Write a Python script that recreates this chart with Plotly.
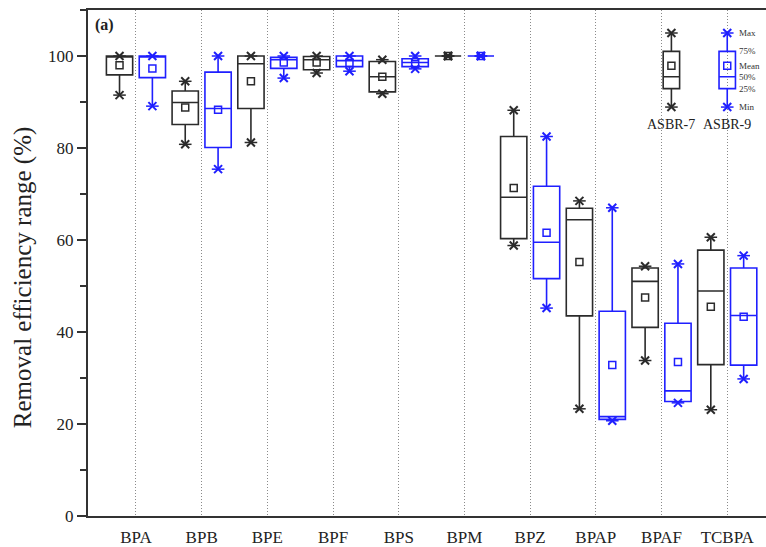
import plotly.graph_objects as go

# Compounds on the x axis
categories = ["BPA", "BPB", "BPE", "BPF", "BPS", "BPM", "BPZ", "BPAP", "BPAF", "TCBPA"]

# ASBR-7 removal efficiency statistics (%)
asbr7_min = [91.5, 80.8, 81.2, 96.3, 91.8, 100.0, 58.8, 23.3, 33.8, 23.1]
asbr7_q1 = [95.9, 85.1, 88.6, 97.0, 92.2, 100.0, 60.3, 43.5, 41.0, 32.9]
asbr7_median = [100.0, 89.9, 98.3, 99.2, 95.5, 100.0, 69.3, 64.4, 51.0, 48.9]
asbr7_q3 = [100.0, 92.4, 100.0, 99.9, 98.8, 100.0, 82.5, 66.9, 53.9, 57.8]
asbr7_max = [100.0, 94.5, 100.0, 100.0, 99.2, 100.0, 88.2, 68.5, 54.3, 60.6]
asbr7_mean = [98.0, 88.8, 94.5, 98.6, 95.5, 100.0, 71.3, 55.2, 47.5, 45.5]

# ASBR-9 removal efficiency statistics (%)
asbr9_min = [89.1, 75.4, 95.2, 96.7, 97.2, 100.0, 45.2, 20.7, 24.6, 29.8]
asbr9_q1 = [95.3, 80.1, 97.3, 97.7, 97.7, 100.0, 51.6, 21.0, 24.9, 32.8]
asbr9_median = [100.0, 88.6, 99.2, 99.0, 98.6, 100.0, 59.5, 21.6, 27.2, 43.6]
asbr9_q3 = [100.0, 96.5, 99.7, 100.0, 99.4, 100.0, 71.7, 44.5, 41.9, 53.9]
asbr9_max = [100.0, 100.0, 100.0, 100.0, 100.0, 100.0, 82.5, 67.0, 54.8, 56.6]
asbr9_mean = [97.3, 88.3, 98.6, 98.5, 98.2, 100.0, 61.6, 32.8, 33.5, 43.3]

# Box-key statistics drawn in the upper right corner
key_min, key_q1, key_median, key_q3, key_max, key_mean = 88.9, 92.9, 95.5, 101.0, 105.0, 97.9
key_labels = ["Max", "75%", "Mean", "50%", "25%", "Min"]
y_ticks = [0, 20, 40, 60, 80, 100]

FONT = "Liberation Serif"
BLACK = "#2b2b2b"
BLUE = "#1f1fff"

positions = list(range(1, len(categories) + 1))
fig = go.Figure()


def add_series(xs, q1, med, q3, lo, hi, mean, color, width):
    fig.add_trace(go.Box(
        x=xs, q1=q1, median=med, q3=q3, lowerfence=lo, upperfence=hi,
        width=width, whiskerwidth=0, boxpoints=False,
        fillcolor="rgba(0,0,0,0)", line=dict(color=color, width=1.6),
        showlegend=False, hoverinfo="skip"))
    # min / max crosses
    ends_x = list(xs) + list(xs)
    ends_y = list(lo) + list(hi)
    fig.add_trace(go.Scatter(
        x=ends_x, y=ends_y, mode="markers", showlegend=False, hoverinfo="skip",
        marker=dict(symbol="x-thin-open", size=8, color=color,
                    line=dict(color=color, width=2))))
    fig.add_trace(go.Scatter(
        x=ends_x, y=ends_y, mode="markers", showlegend=False, hoverinfo="skip",
        marker=dict(symbol="line-ew-open", size=9, color=color,
                    line=dict(color=color, width=1.5))))
    # mean squares
    fig.add_trace(go.Scatter(
        x=xs, y=mean, mode="markers", showlegend=False, hoverinfo="skip",
        marker=dict(symbol="square-open", size=7, color=color,
                    line=dict(color=color, width=1.5))))


x7 = [p - 0.25 for p in positions]
x9 = [p + 0.25 for p in positions]
add_series(x7, asbr7_q1, asbr7_median, asbr7_q3, asbr7_min, asbr7_max, asbr7_mean, BLACK, 0.4)
add_series(x9, asbr9_q1, asbr9_median, asbr9_q3, asbr9_min, asbr9_max, asbr9_mean, BLUE, 0.4)

# key boxes
key_x7, key_x9 = 9.15, 10.0
for kx, col in [(key_x7, BLACK), (key_x9, BLUE)]:
    add_series([kx], [key_q1], [key_median], [key_q3], [key_min], [key_max], [key_mean], col, 0.25)

annotations = []
key_label_y = [key_max, key_q3, key_mean, key_median, key_q1, key_min]
for txt, ky in zip(key_labels, key_label_y):
    annotations.append(dict(x=10.15, y=ky, xref="x", yref="y", text=txt, showarrow=False,
                            xanchor="left", yanchor="middle",
                            font=dict(family=FONT, size=9, color="#333")))
for kx, txt in [(key_x7, "ASBR-7"), (key_x9, "ASBR-9")]:
    annotations.append(dict(x=kx, y=85.1, xref="x", yref="y", text=txt, showarrow=False,
                            xanchor="center", yanchor="middle",
                            font=dict(family=FONT, size=14, color="#222")))
annotations.append(dict(x=0.007, y=0.97, xref="paper", yref="paper", text="<b>(a)</b>",
                        showarrow=False, xanchor="left", yanchor="middle",
                        font=dict(family=FONT, size=16, color="#222")))
annotations.append(dict(x=-(88 - 23) / 678, y=0.47, xref="paper", yref="paper",
                        text="Removal efficiency range (%)", textangle=-90, showarrow=False,
                        xanchor="center", yanchor="middle",
                        font=dict(family=FONT, size=25, color="#222")))

fig.update_layout(
    width=766, height=547,
    margin=dict(l=88, r=0, t=10, b=26),
    paper_bgcolor="white", plot_bgcolor="white",
    boxmode="overlay",
    showlegend=False,
    annotations=annotations,
    font=dict(family=FONT, color="#222"),
    xaxis=dict(
        range=[0.27, 10.59], tickvals=positions, ticktext=categories,
        ticks="", showgrid=True, gridcolor="#8a8a8a", griddash="1px,2px", gridwidth=1,
        showline=True, linecolor="#333", linewidth=2, mirror=True, zeroline=False,
        tickfont=dict(family=FONT, size=17, color="#222"), ticklabelstandoff=5),
    yaxis=dict(
        range=[0, 110], tickvals=y_ticks, ticks="outside", ticklen=9, tickwidth=1.5,
        tickcolor="#333", showgrid=False, zeroline=False,
        showline=True, linecolor="#333", linewidth=2,
        tickfont=dict(family=FONT, size=17, color="#222"),
        minor=dict(dtick=10, ticks="outside", ticklen=6, tickwidth=1.5, tickcolor="#333",
                   showgrid=False)),
)

fig.write_html("out.html")
